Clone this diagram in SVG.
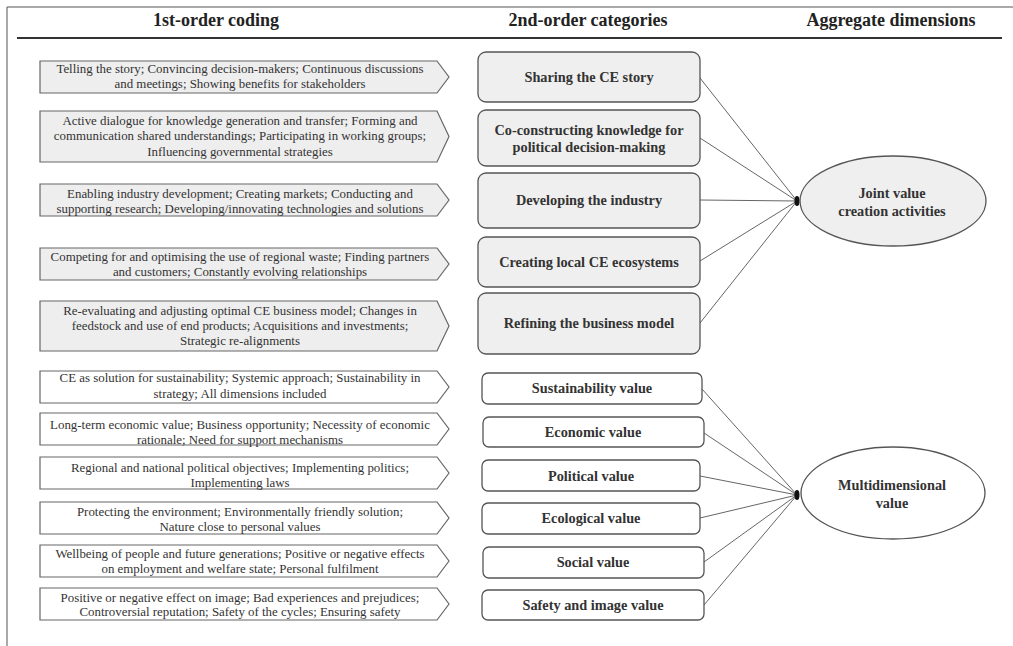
<svg xmlns="http://www.w3.org/2000/svg" width="1013" height="646" viewBox="0 0 1013 646">
  <style>
    .frame { stroke: #555; stroke-width: 1; fill: none; }
    .rule { stroke: #333; stroke-width: 2.2; }
    .head { font-family: "Liberation Serif", "Times New Roman", serif; font-weight: bold; font-size: 18px; fill: #222; text-anchor: middle; }
    .code { font-family: "Liberation Serif", "Times New Roman", serif; font-size: 12.9px; fill: #333; text-anchor: middle; }
    .cat { font-family: "Liberation Serif", "Times New Roman", serif; font-weight: bold; font-size: 14.3px; fill: #333; text-anchor: middle; }
    .arrow-g { fill: #eeeeee; stroke: #666; stroke-width: 1.2; }
    .arrow-w { fill: #ffffff; stroke: #666; stroke-width: 1.2; }
    .box-g { fill: #efefef; stroke: #555; stroke-width: 1.3; }
    .box-w { fill: #ffffff; stroke: #555; stroke-width: 1.3; }
    .dim { stroke: #555; stroke-width: 1.3; }
    .link { stroke: #666; stroke-width: 1; fill: none; }
    .hub { fill: #111; }
  </style>

  <!-- frame and header -->
  <line class="frame" x1="7" y1="7" x2="1013" y2="7"/>
  <line class="frame" x1="7" y1="7" x2="7" y2="646"/>
  <text class="head" x="216" y="26">1st-order coding</text>
  <text class="head" x="588" y="26">2nd-order categories</text>
  <text class="head" x="891" y="26">Aggregate dimensions</text>
  <line class="rule" x1="17" y1="38" x2="1002" y2="38"/>

  <!-- connectors -->
  <g id="connectors">
    <line class="link" x1="700" y1="78" x2="797" y2="201"/>
    <line class="link" x1="700" y1="138" x2="797" y2="201"/>
    <line class="link" x1="700" y1="200" x2="797" y2="201"/>
    <line class="link" x1="700" y1="261" x2="797" y2="201"/>
    <line class="link" x1="700" y1="323" x2="797" y2="201"/>
    <ellipse class="hub" cx="797" cy="201" rx="2.5" ry="5"/>

    <line class="link" x1="702" y1="389" x2="797" y2="495"/>
    <line class="link" x1="704" y1="433" x2="797" y2="495"/>
    <line class="link" x1="700" y1="476" x2="797" y2="495"/>
    <line class="link" x1="700" y1="518" x2="797" y2="495"/>
    <line class="link" x1="704" y1="562" x2="797" y2="495"/>
    <line class="link" x1="704" y1="605" x2="797" y2="495"/>
    <ellipse class="hub" cx="797" cy="495" rx="2.5" ry="5"/>
  </g>

  <!-- 1st-order codes: shaded -->
  <g id="code-1">
    <polygon class="arrow-g" points="40,61 437,61 449,77 437,93 40,93"/>
    <text class="code" x="240" y="73">Telling the story; Convincing decision-makers; Continuous discussions</text>
    <text class="code" x="240" y="88">and meetings; Showing benefits for stakeholders</text>
  </g>
  <g id="code-2">
    <polygon class="arrow-g" points="40,111 437,111 449,136.5 437,162 40,162"/>
    <text class="code" x="240" y="125">Active dialogue for knowledge generation and transfer; Forming and</text>
    <text class="code" x="240" y="140">communication shared understandings; Participating in working groups;</text>
    <text class="code" x="240" y="156">Influencing governmental strategies</text>
  </g>
  <g id="code-3">
    <polygon class="arrow-g" points="40,184 437,184 449,200 437,216 40,216"/>
    <text class="code" x="240" y="198">Enabling industry development; Creating markets; Conducting and</text>
    <text class="code" x="240" y="213">supporting research; Developing/innovating technologies and solutions</text>
  </g>
  <g id="code-4">
    <polygon class="arrow-g" points="40,248 437,248 449,264 437,280 40,280"/>
    <text class="code" x="240" y="261">Competing for and optimising the use of regional waste; Finding partners</text>
    <text class="code" x="240" y="276">and customers; Constantly evolving relationships</text>
  </g>
  <g id="code-5">
    <polygon class="arrow-g" points="40,301 437,301 449,326 437,351 40,351"/>
    <text class="code" x="240" y="315">Re-evaluating and adjusting optimal CE business model; Changes in</text>
    <text class="code" x="240" y="330">feedstock and use of end products; Acquisitions and investments;</text>
    <text class="code" x="240" y="345">Strategic re-alignments</text>
  </g>

  <!-- 1st-order codes: plain -->
  <g id="code-6">
    <polygon class="arrow-w" points="40,371 437,371 449,387 437,403 40,403"/>
    <text class="code" x="240" y="382">CE as solution for sustainability; Systemic approach; Sustainability in</text>
    <text class="code" x="240" y="398">strategy; All dimensions included</text>
  </g>
  <g id="code-7">
    <polygon class="arrow-w" points="40,413 437,413 449,429 437,445 40,445"/>
    <text class="code" x="240" y="429">Long-term economic value; Business opportunity; Necessity of economic</text>
    <text class="code" x="240" y="444">rationale; Need for support mechanisms</text>
  </g>
  <g id="code-8">
    <polygon class="arrow-w" points="40,457 437,457 449,473 437,489 40,489"/>
    <text class="code" x="240" y="472">Regional and national political objectives; Implementing politics;</text>
    <text class="code" x="240" y="487">Implementing laws</text>
  </g>
  <g id="code-9">
    <polygon class="arrow-w" points="40,502 437,502 449,518 437,534 40,534"/>
    <text class="code" x="240" y="516">Protecting the environment; Environmentally friendly solution;</text>
    <text class="code" x="240" y="531">Nature close to personal values</text>
  </g>
  <g id="code-10">
    <polygon class="arrow-w" points="40,545 437,545 449,561 437,577 40,577"/>
    <text class="code" x="240" y="558">Wellbeing of people and future generations; Positive or negative effects</text>
    <text class="code" x="240" y="573">on employment and welfare state; Personal fulfilment</text>
  </g>
  <g id="code-11">
    <polygon class="arrow-w" points="40,588 437,588 449,604 437,620 40,620"/>
    <text class="code" x="240" y="602">Positive or negative effect on image; Bad experiences and prejudices;</text>
    <text class="code" x="240" y="616">Controversial reputation; Safety of the cycles; Ensuring safety</text>
  </g>

  <!-- 2nd-order categories: activities -->
  <g id="cat-story">
    <rect class="box-g" x="478" y="52" width="222" height="50" rx="8"/>
    <text class="cat" x="589" y="82">Sharing the CE story</text>
  </g>
  <g id="cat-knowledge">
    <rect class="box-g" x="478" y="110" width="222" height="56" rx="8"/>
    <text class="cat" x="589" y="135">Co-constructing knowledge for</text>
    <text class="cat" x="589" y="152">political decision-making</text>
  </g>
  <g id="cat-industry">
    <rect class="box-g" x="478" y="173" width="222" height="55" rx="8"/>
    <text class="cat" x="589" y="205">Developing the industry</text>
  </g>
  <g id="cat-ecosystems">
    <rect class="box-g" x="478" y="237" width="222" height="50" rx="8"/>
    <text class="cat" x="589" y="267">Creating local CE ecosystems</text>
  </g>
  <g id="cat-business">
    <rect class="box-g" x="478" y="293" width="222" height="61" rx="8"/>
    <text class="cat" x="589" y="328">Refining the business model</text>
  </g>

  <!-- 2nd-order categories: values -->
  <g id="cat-sustainability">
    <rect class="box-w" x="482" y="373" width="220" height="31" rx="6"/>
    <text class="cat" x="592" y="393">Sustainability value</text>
  </g>
  <g id="cat-economic">
    <rect class="box-w" x="483" y="417" width="221" height="30" rx="6"/>
    <text class="cat" x="593" y="437">Economic value</text>
  </g>
  <g id="cat-political">
    <rect class="box-w" x="482" y="460" width="218" height="31" rx="6"/>
    <text class="cat" x="591" y="481">Political value</text>
  </g>
  <g id="cat-ecological">
    <rect class="box-w" x="482" y="503" width="218" height="31" rx="6"/>
    <text class="cat" x="591" y="523">Ecological value</text>
  </g>
  <g id="cat-social">
    <rect class="box-w" x="483" y="547" width="221" height="31" rx="6"/>
    <text class="cat" x="593" y="567">Social value</text>
  </g>
  <g id="cat-safety">
    <rect class="box-w" x="482" y="590" width="222" height="30" rx="6"/>
    <text class="cat" x="593" y="610">Safety and image value</text>
  </g>

  <!-- aggregate dimensions -->
  <g id="dim-joint">
    <ellipse class="dim" cx="893" cy="201" rx="93" ry="45" fill="#efefef"/>
    <text class="cat" x="892" y="198">Joint value</text>
    <text class="cat" x="892" y="216">creation activities</text>
  </g>
  <g id="dim-multi">
    <ellipse class="dim" cx="893" cy="493" rx="92" ry="46" fill="#ffffff"/>
    <text class="cat" x="892" y="490">Multidimensional</text>
    <text class="cat" x="892" y="508">value</text>
  </g>
</svg>
